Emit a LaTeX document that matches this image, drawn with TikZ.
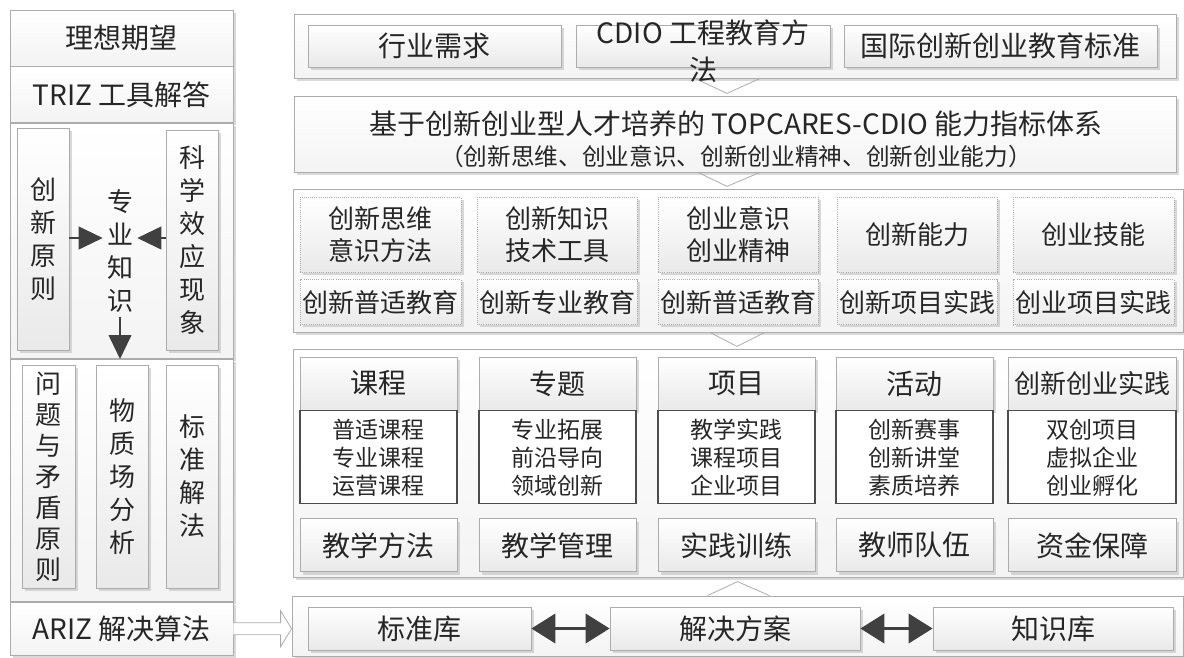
\documentclass[tikz,border=0pt]{standalone}
\usepackage{fontspec}
\setmainfont{Noto Sans CJK SC}
\usetikzlibrary{positioning,shadows,arrows.meta,calc}

\begin{document}
\begin{tikzpicture}[x=0.75pt,y=-0.75pt,
		boxw/.style={minimum width=#1*0.75pt},
		boxh/.style={minimum height=#1*0.75pt},
		panel/.style={draw=gray!65, line width=0.6pt, top color=white, bottom color=gray!9,
			drop shadow={shadow xshift=2pt, shadow yshift=-2pt, fill=gray!50, opacity=0.6},
			inner sep=0pt, text=black!85, font=\fontsize{21}{25}\selectfont},
		block/.style={panel, bottom color=gray!17},
		dotblock/.style={block, densely dotted, align=center, font=\fontsize{19.5}{24}\selectfont},
		listbox/.style={draw=black!70, line width=0.8pt, fill=white, inner sep=0pt, text=black!85,
			align=center, font=\fontsize{17.25}{21}\selectfont},
		vtext/.style={block, align=center, font=\fontsize{19.5}{24.75}\selectfont},
		arr/.style={draw=black!75, line width=1.5pt, -{Triangle[length=18pt,width=17pt]}},
		dblarr/.style={draw=black!75, line width=2.2pt, {Triangle[length=18pt,width=22pt]}-{Triangle[length=18pt,width=22pt]}},
		chev/.style={draw=gray!65, line width=0.6pt},
		hollow/.style={draw=gray!65, line width=0.6pt, fill=white}
	]
	\useasboundingbox (0,0) rectangle (1184,657);

	% left column
	\node[panel, boxw=223, boxh=56] (lxqw) at (121.5,38) {理想期望};
	\node[panel, boxw=223, boxh=56, below=0pt of lxqw] (ltriz) {TRIZ 工具解答};
	\node[panel, boxw=223, boxh=235, below=0pt of ltriz] (lsec1) {};
	\node[panel, boxw=223, boxh=242, below=0pt of lsec1] (lsec2) {};
	\node[panel, boxw=223, boxh=53, below=0pt of lsec2] (lariz) {ARIZ 解决算法};

	\node[vtext, boxw=52, boxh=222] (cxyz) at (43,239) {创\\新\\原\\则};
	\node[vtext, boxw=52, boxh=220] (kxxy) at (192,240) {科\\学\\效\\应\\现\\象};
	\node[align=center, inner sep=3pt, text=black!85, font=\fontsize{19.5}{24.75}\selectfont] (zyzs) at (120,251) {专\\业\\知\\识};
	\coordinate (zymid) at (120,238);
	\draw[arr] (cxyz.east |- zymid) -- (zyzs.west |- zymid);
	\draw[arr] (kxxy.west |- zymid) -- (zyzs.east |- zymid);
	\draw[arr] (zyzs.south) -- (zyzs.south |- lsec1.south);

	\node[vtext, boxw=53, boxh=223, font=\fontsize{19.5}{23.25}\selectfont] (wtmd) at (48.5,476.5) {问\\题\\与\\矛\\盾\\原\\则};
	\node[vtext, boxw=52, boxh=223] (wzcf) at (122,476.5) {物\\质\\场\\分\\析};
	\node[vtext, boxw=52, boxh=223] (bzjf) at (192,476.5) {标\\准\\解\\法};

	% right column panels
	\node[panel, boxw=882, boxh=64] (r1) at (735,46) {};
	\node[panel, boxw=882, boxh=76] (r2) at (735,134) {};
	\node[align=center, inner sep=0pt, text=black!85, font=\fontsize{21}{25}\selectfont] (r2lbl) at (736,139)
		{基于创新创业型人才培养的 TOPCARES-CDIO 能力指标体系\\[-2pt]
		{\fontsize{17.75}{20}\selectfont （创新思维、创业意识、创新创业精神、创新创业能力）}};
	\node[panel, boxw=890, boxh=143] (r3) at (738,260.5) {};
	\node[panel, boxw=890, boxh=228] (r4) at (738,463) {};
	\node[panel, boxw=891, boxh=60] (r5) at (737.5,626) {};

	\draw[chev] ($(r1.south)+(-40,0)$) -- ($(r1.south)+(-8,15)$) -- ($(r1.south)+(25,0)$);
	\draw[chev] ($(r2.south)+(-37,0)$) -- ($(r2.south)+(-8,14)$) -- ($(r2.south)+(25,0)$);
	\draw[chev] ($(r3.south)+(-28,0)$) -- ($(r3.south)+(-1,14)$) -- ($(r3.south)+(27,0)$);
	\draw[chev] ($(r5.north)+(-30,0)$) -- ($(r5.north)+(0,-14)$) -- ($(r5.north)+(32,0)$);

	% row 1
	\node[block, boxw=253, boxh=42] (hyxq) at (434.5,46) {行业需求};
	\node[block, boxw=254, boxh=42] (cdio) at (703,46) {};
	\node[align=center, inner sep=0pt, text=black!85, font=\fontsize{21}{28}\selectfont] (cdiolbl) at (703,51.5) {CDIO 工程教育方\\法};
	\node[block, boxw=313, boxh=42] (gjbz) at (1000.5,46) {国际创新创业教育标准};

	% row 3
	\node[dotblock, boxw=161, boxh=75] (a1) at (380.5,234.5) {创新思维\\意识方法};
	\node[dotblock, boxw=160, boxh=75] (a2) at (557,234.5) {创新知识\\技术工具};
	\node[dotblock, boxw=160, boxh=75] (a3) at (738,234.5) {创业意识\\创业精神};
	\node[dotblock, boxw=160, boxh=75] (a4) at (917,234.5) {创新能力};
	\node[dotblock, boxw=161, boxh=75] (a5) at (1093.5,234.5) {创业技能};
	\node[dotblock, boxw=161, boxh=45, below=5.25pt of a1] (b1) {创新普适教育};
	\node[dotblock, boxw=160, boxh=45, below=5.25pt of a2] (b2) {创新专业教育};
	\node[dotblock, boxw=160, boxh=45, below=5.25pt of a3] (b3) {创新普适教育};
	\node[dotblock, boxw=160, boxh=45, below=5.25pt of a4] (b4) {创新项目实践};
	\node[dotblock, boxw=161, boxh=45, below=5.25pt of a5] (b5) {创业项目实践};

	% row 4
	\node[block, boxw=157, boxh=53] (k1) at (378.5,383.5) {课程};
	\node[block, boxw=157, boxh=53] (k2) at (557.5,383.5) {专题};
	\node[block, boxw=157, boxh=53] (k3) at (736.5,383.5) {项目};
	\node[block, boxw=157, boxh=53] (k4) at (914.5,383.5) {活动};
	\node[block, boxw=168, boxh=53, font=\fontsize{19.5}{24}\selectfont] (k5) at (1092,383.5) {创新创业实践};
	\node[listbox, boxw=157, boxh=93, below=0pt of k1] (n1) {普适课程\\专业课程\\运营课程};
	\node[listbox, boxw=157, boxh=93, below=0pt of k2] (n2) {专业拓展\\前沿导向\\领域创新};
	\node[listbox, boxw=157, boxh=93, below=0pt of k3] (n3) {教学实践\\课程项目\\企业项目};
	\node[listbox, boxw=157, boxh=93, below=0pt of k4] (n4) {创新赛事\\创新讲堂\\素质培养};
	\node[listbox, boxw=168, boxh=93, below=0pt of k5] (n5) {双创项目\\虚拟企业\\创业孵化};
	\node[block, boxw=157, boxh=53, below=10.5pt of n1] (m1) {教学方法};
	\node[block, boxw=157, boxh=53, below=10.5pt of n2] (m2) {教学管理};
	\node[block, boxw=157, boxh=53, below=10.5pt of n3] (m3) {实践训练};
	\node[block, boxw=157, boxh=53, below=10.5pt of n4] (m4) {教师队伍};
	\node[block, boxw=168, boxh=53, below=10.5pt of n5] (m5) {资金保障};

	% row 5
	\node[block, boxw=223, boxh=43] (bzk) at (419.5,628.5) {标准库};
	\node[block, boxw=250, boxh=43] (jjfa) at (735,628.5) {解决方案};
	\node[block, boxw=240, boxh=43] (zsk) at (1053,628.5) {知识库};
	\draw[dblarr] (bzk) -- (jjfa);
	\draw[dblarr] (jjfa) -- (zsk);

	\draw[hollow] ($(lariz.east)+(0,-6)$) -- ($(r5.west |- lariz.east)+(-11,-6)$)
		-- ($(r5.west |- lariz.east)+(-11,-18)$) -- (r5.west |- lariz.east)
		-- ($(r5.west |- lariz.east)+(-11,18)$) -- ($(r5.west |- lariz.east)+(-11,6)$)
		-- ($(lariz.east)+(0,6)$);
\end{tikzpicture}
\end{document}
